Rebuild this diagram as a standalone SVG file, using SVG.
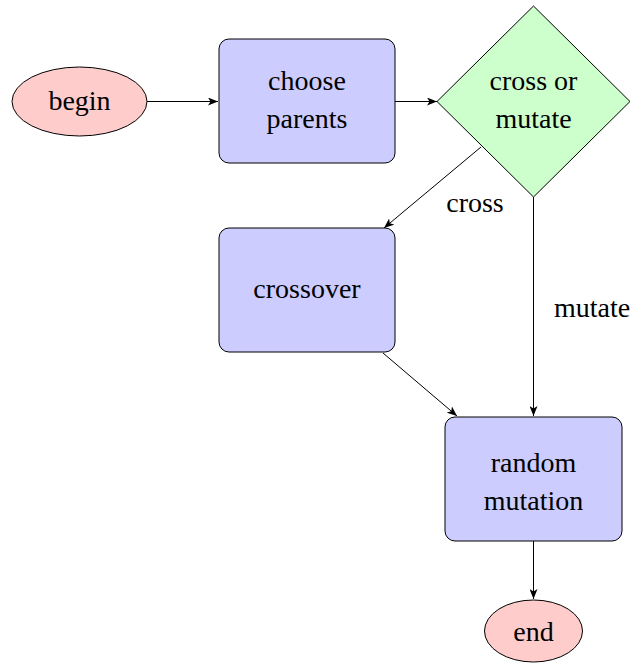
<svg xmlns="http://www.w3.org/2000/svg" width="640" height="664" viewBox="0 0 640 664">
<style>
text{font-family:'Liberation Serif','DejaVu Serif',serif;font-size:28px;fill:#000;text-anchor:middle}
.term{fill:#ffcccc;stroke:#000;stroke-width:1}
.proc{fill:#ccccff;stroke:#000;stroke-width:1}
.dec{fill:#ccffcc;stroke:#000;stroke-width:1}
.edge{fill:none;stroke:#000;stroke-width:1;marker-end:url(#ah)}
</style>
<defs>
<marker id="ah" viewBox="0 0 10 8" refX="10" refY="4" markerWidth="10" markerHeight="8" markerUnits="userSpaceOnUse" orient="auto">
<path d="M0,0 L10,4 L0,8 L2.5,4 Z" fill="#000"/>
</marker>
</defs>
<g id="connectors">
<line class="edge" x1="147" y1="101.5" x2="218" y2="101.5"/>
<line class="edge" x1="395" y1="101.5" x2="437" y2="101.5"/>
<line class="edge" x1="481" y1="147" x2="384" y2="228"/>
<line class="edge" x1="533.5" y1="197" x2="533.5" y2="416"/>
<line class="edge" x1="383" y1="353" x2="457" y2="416"/>
<line class="edge" x1="533.5" y1="541" x2="533.5" y2="599"/>
<text x="475" y="212" font-family="Liberation Serif, DejaVu Serif, serif">cross</text>
<text x="592" y="317" font-family="Liberation Serif, DejaVu Serif, serif">mutate</text>
</g>
<g id="begin">
<ellipse class="term" cx="79.5" cy="101.5" rx="67.5" ry="34.5"/>
<text x="79.5" y="110" font-family="Liberation Serif, DejaVu Serif, serif">begin</text>
</g>
<g id="choose">
<rect class="proc" x="219" y="39" width="176" height="124" rx="10"/>
<text x="307" y="90" font-family="Liberation Serif, DejaVu Serif, serif">choose</text>
<text x="307" y="128" font-family="Liberation Serif, DejaVu Serif, serif">parents</text>
</g>
<g id="decision">
<polygon class="dec" points="533.5,6 630,101.5 533.5,197 437,101.5"/>
<text x="533.5" y="90" font-family="Liberation Serif, DejaVu Serif, serif">cross or</text>
<text x="533.5" y="128" font-family="Liberation Serif, DejaVu Serif, serif">mutate</text>
</g>
<g id="crossover">
<rect class="proc" x="219" y="228" width="176" height="124" rx="10"/>
<text x="307" y="298" font-family="Liberation Serif, DejaVu Serif, serif">crossover</text>
</g>
<g id="mutation">
<rect class="proc" x="445" y="417" width="177" height="124" rx="10"/>
<text x="533.5" y="472" font-family="Liberation Serif, DejaVu Serif, serif">random</text>
<text x="533.5" y="510" font-family="Liberation Serif, DejaVu Serif, serif">mutation</text>
</g>
<g id="end">
<ellipse class="term" cx="533.5" cy="631" rx="49" ry="31"/>
<text x="533.5" y="641" font-family="Liberation Serif, DejaVu Serif, serif">end</text>
</g>
</svg>
